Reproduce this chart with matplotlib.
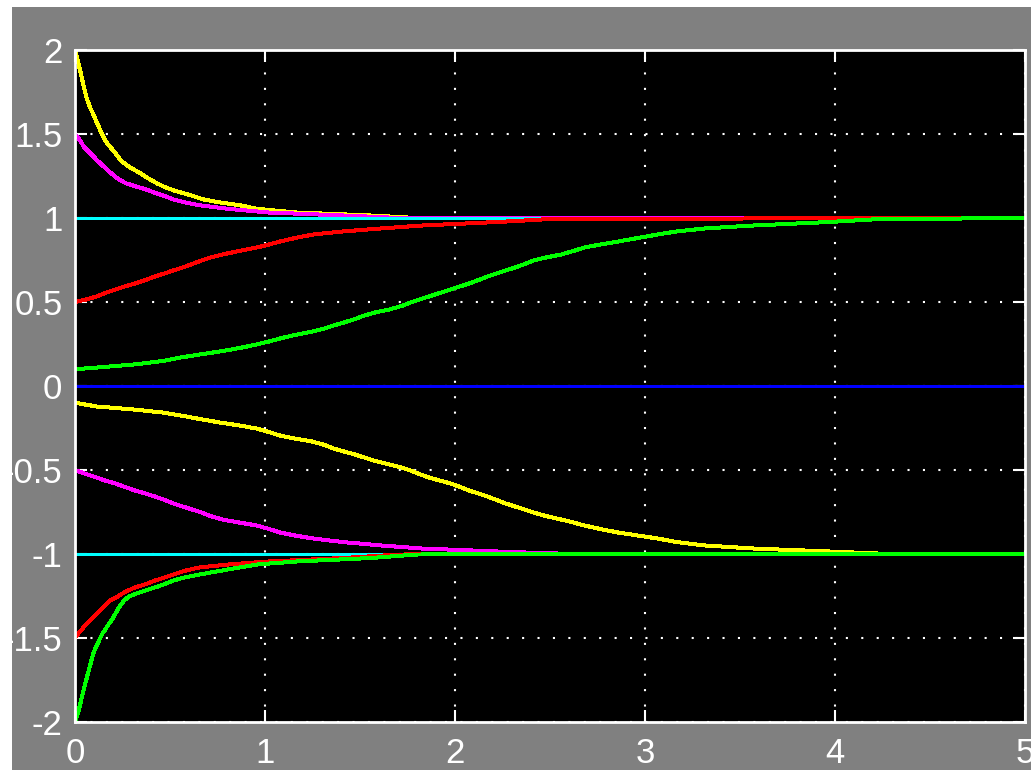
import matplotlib
matplotlib.use('Agg')
import matplotlib.pyplot as plt
from matplotlib.patches import Rectangle

# ---- scope traces (time in s, value) ----
# yellow: upper starts at 2, lower starts near -0.1
yel_up_t = [0, .016, .032, .047, .063, .079, .095, .11, .126, .142, .158, .176, .21, .242,
            .284, .316, .347, .397, .432, .471, .518, .566, .616, .674, .761, .866, .963,
            1.158, 1.555, 1.8, 5]
yel_up_v = [2.0, 1.93, 1.854, 1.778, 1.708, 1.659, 1.62, 1.58, 1.54, 1.5, 1.464, 1.434, 1.391,
            1.341, 1.305, 1.284, 1.264, 1.228, 1.206, 1.185, 1.165, 1.149, 1.133, 1.111, 1.093,
            1.076, 1.054, 1.033, 1.015, 1.0, 1.0]

slow_t = [0, .115, .31, .463, .558, .655, .76, .866, .955, 1.021, 1.079, 1.158, 1.247, 1.313,
          1.36, 1.416, 1.474, 1.524, 1.579, 1.653, 1.718, 1.766, 1.813, 1.863, 1.921, 1.976,
          2.024, 2.074, 2.124, 2.171, 2.218, 2.266, 2.316, 2.366, 2.413, 2.479, 2.56, 2.624,
          2.68, 2.763, 2.858, 2.963, 3.068, 3.166, 3.313, 3.563, 3.968, 4.22, 5]
yel_lo_v = [-.1, -.122, -.14, -.158, -.176, -.196, -.217, -.235, -.253, -.274, -.295, -.313,
            -.33, -.351, -.372, -.39, -.408, -.426, -.446, -.467, -.485, -.503, -.524, -.545,
            -.563, -.58, -.6, -.622, -.64, -.658, -.678, -.699, -.717, -.735, -.753, -.774,
            -.795, -.813, -.83, -.851, -.872, -.89, -.908, -.929, -.949, -.967, -.985, -.997, -1.0]

# magenta: upper starts at 1.5, lower at -0.5
mag_up_t = [0, .016, .032, .047, .063, .079, .095, .11, .126, .142, .161, .176, .195, .213,
            .237, .268, .316, .371, .421, .471, .518, .574, .655, .811, 1.013, 1.41, 1.71, 5]
mag_up_v = [1.5, 1.478, 1.451, 1.423, 1.405, 1.387, 1.369, 1.351, 1.333, 1.315, 1.298, 1.28,
            1.262, 1.244, 1.226, 1.207, 1.189, 1.171, 1.15, 1.131, 1.11, 1.094, 1.076, 1.054,
            1.033, 1.015, 1.0, 1.0]

mid_t = [0, .058, .113, .16, .211, .261, .316, .371, .421, .471, .518, .566, .616, .666, .713,
         .776, .866, .955, 1.021, 1.079, 1.158, 1.255, 1.41, 1.61, 1.82, 2.22, 2.52, 5]
mag_lo_v = [-.5, -.524, -.545, -.563, -.58, -.6, -.622, -.64, -.658, -.678, -.699, -.717, -.735,
            -.753, -.774, -.795, -.813, -.83, -.851, -.872, -.89, -.908, -.929, -.949, -.967,
            -.985, -.997, -1.0]

# cyan: references at +1 / -1
cyan_t = [0, 5]
cyan_up_v = [1, 1]
cyan_lo_v = [-1, -1]

# red: upper starts at 0.5, lower at -1.5
red_up_v = [.5, .515, .533, .554, .574, .592, .61, .631, .652, .67, .688, .705, .726, .747,
            .765, .783, .804, .824, .842, .86, .881, .902, .92, .9375, .955, .976, .995, 1.0]
red_lo_t = [0, .018, .034, .05, .066, .082, .097, .113, .129, .145, .161, .187, .213, .237,
            .268, .316, .371, .421, .471, .518, .574, .655, .811, 1.013, 1.41, 1.71, 5]
red_lo_v = [-1.5, -1.473, -1.452, -1.43, -1.411, -1.393, -1.375, -1.357, -1.339, -1.321,
            -1.304, -1.274, -1.262, -1.244, -1.223, -1.199, -1.18, -1.158, -1.14, -1.122,
            -1.101, -1.08, -1.062, -1.045, -1.024, -1.003, -1.0]

# green: upper starts near 0.1, lower at -2
grn_up_v = [.1, .11, .128, .149, .17, .1875, .205, .226, .247, .265, .283, .304, .324, .342,
            .36, .378, .399, .42, .4375, .455, .476, .497, .515, .533, .554, .574, .592, .61,
            .631, .652, .67, .688, .705, .726, .747, .765, .783, .804, .824, .842, .86, .881,
            .902, .92, .9375, .955, .976, .993, 1.0]
grn_lo_t = [0, .018, .034, .05, .066, .082, .097, .113, .129, .145, .161, .176, .195, .21,
            .225, .242, .261, .284, .324, .371, .421, .471, .518, .574, .655, .761, .866, .963,
            1.16, 1.555, 1.8, 5]
grn_lo_v = [-2.0, -1.938, -1.863, -1.789, -1.72, -1.652, -1.589, -1.548, -1.509, -1.473,
            -1.446, -1.42, -1.39, -1.36, -1.33, -1.3, -1.274, -1.253, -1.235, -1.217, -1.199,
            -1.18, -1.158, -1.14, -1.122, -1.101, -1.08, -1.062, -1.045, -1.024, -1.003, -1.0]

# blue: zero line
blue_t = [0, 5]
blue_v = [0, 0]

x_ticks = [0, 1, 2, 3, 4, 5]
x_labels = ['0', '1', '2', '3', '4', '5']
y_ticks = [-2, -1.5, -1, -0.5, 0, 0.5, 1, 1.5, 2]
y_labels = ['-2', '-1.5', '-1', '-0.5', '0', '0.5', '1', '1.5', '2']

plt.rcParams['font.family'] = ['Liberation Sans', 'DejaVu Sans']

W, H = 1031, 770
fig = plt.figure(figsize=(W / 100, H / 100), dpi=100, facecolor='white')
fig.add_artist(Rectangle((12 / W, 0), 1, 1 - 7 / H, transform=fig.transFigure,
                         facecolor='#808080', edgecolor='none', zorder=-5))

ax = fig.add_axes([75 / W, 1 - 722 / H, 950 / W, 672 / H])
ax.set_facecolor('black')
ax.set_axisbelow(True)

traces = [
    (yel_up_t, yel_up_v, '#ffff00'), (slow_t, yel_lo_v, '#ffff00'),
    (mag_up_t, mag_up_v, '#ff00ff'), (mid_t, mag_lo_v, '#ff00ff'),
    (cyan_t, cyan_up_v, '#00ffff'), (cyan_t, cyan_lo_v, '#00ffff'),
    (mid_t, red_up_v, '#ff0000'), (red_lo_t, red_lo_v, '#ff0000'),
    (slow_t, grn_up_v, '#00ff00'), (grn_lo_t, grn_lo_v, '#00ff00'),
    (blue_t, blue_v, '#0000ff'),
]
for t, v, c in traces:
    ax.plot(t, v, color=c, linewidth=2.16, antialiased=False)

ax.set_xlim(0, 5)
ax.set_ylim(-2, 2)
ax.set_xticks(x_ticks)
ax.set_xticklabels(x_labels)
ax.set_yticks(y_ticks)
ax.set_yticklabels(y_labels)

ax.grid(True, color='white', linestyle=(0, (1, 6.4)), linewidth=1.5)
ax.tick_params(direction='in', length=8.5, width=1.5, colors='white', labelsize=25,
               top=True, right=True)
ax.tick_params(axis='y', pad=9)
ax.tick_params(axis='x', pad=11)
for s in ax.spines.values():
    s.set_color('white')
    s.set_linewidth(2)

# white border strips over the outer edge
fig.add_artist(Rectangle((0, 0), 12 / W, 1, transform=fig.transFigure,
                         facecolor='white', edgecolor='none', zorder=10))
fig.add_artist(Rectangle((0, 1 - 7 / H), 1, 7 / H, transform=fig.transFigure,
                         facecolor='white', edgecolor='none', zorder=10))

fig.savefig('out.png', dpi=100, facecolor=fig.get_facecolor())
